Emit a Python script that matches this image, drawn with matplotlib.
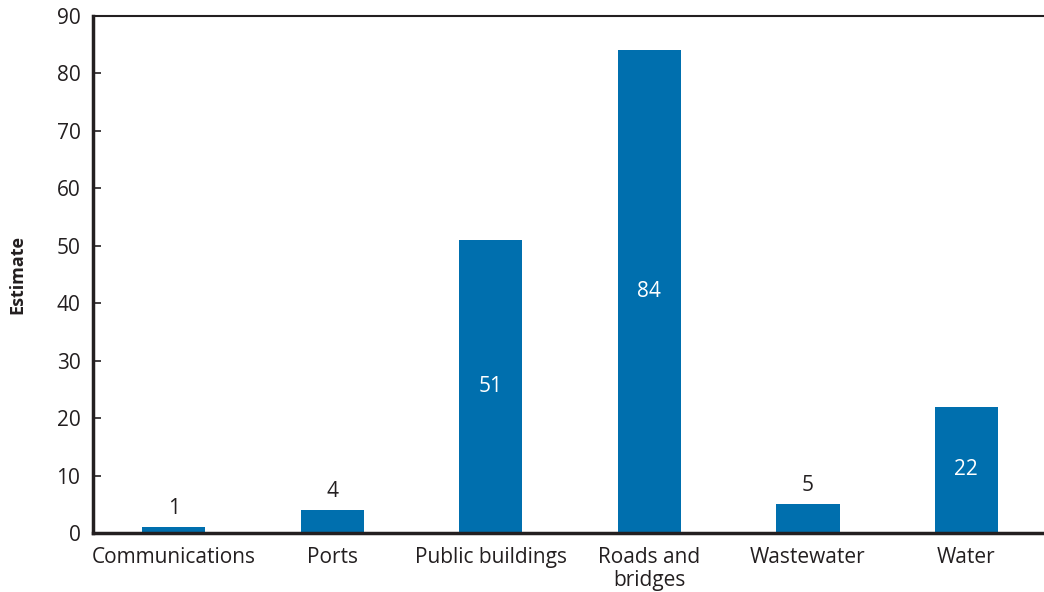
import matplotlib.pyplot as plt

categories = ["Communications", "Ports", "Public buildings", "Roads and\nbridges", "Wastewater", "Water"]
estimates = [1, 4, 51, 84, 5, 22]

blue = "#006fae"
ink = "#231f20"

plt.rcParams["font.family"] = ["Open Sans", "DejaVu Sans"]

fig = plt.figure(figsize=(10.44, 5.92), dpi=100)
ax = fig.add_axes([0.089, 0.0997, 0.911, 0.8733])

x = range(len(categories))
bars = ax.bar(x, estimates, width=0.4, color=blue, zorder=2)

# big bars get a white label in the middle, small ones a dark label on top
for b, v in zip(bars, estimates):
    cx = b.get_x() + b.get_width() / 2
    if v > 15:
        ax.text(cx, v / 2, str(v), ha="center", va="center", color="white", fontsize=15)
    else:
        ax.annotate(str(v), (cx, v), xytext=(0, 6), textcoords="offset points",
                    ha="center", va="bottom", color=ink, fontsize=15)

ax.set_xlim(-0.51, 5.49)
ax.set_ylim(0, 90)
ax.set_yticks(range(0, 91, 10))
ax.set_xticks(list(x))
ax.set_xticklabels(categories, fontsize=15, color=ink, linespacing=1.15)
ax.tick_params(axis="y", direction="in", length=6, width=1.2, color=ink, labelsize=15, labelcolor=ink, pad=9)
ax.tick_params(axis="x", length=0, pad=10)
ax.set_ylabel("Estimate", fontsize=13, fontweight="bold", color=ink, labelpad=22)

ax.spines["right"].set_visible(False)
ax.spines["left"].set_linewidth(2.5)
ax.spines["bottom"].set_linewidth(2.5)
ax.spines["top"].set_linewidth(1.5)
for s in ax.spines.values():
    s.set_color(ink)

fig.savefig("out.png", dpi=100)
